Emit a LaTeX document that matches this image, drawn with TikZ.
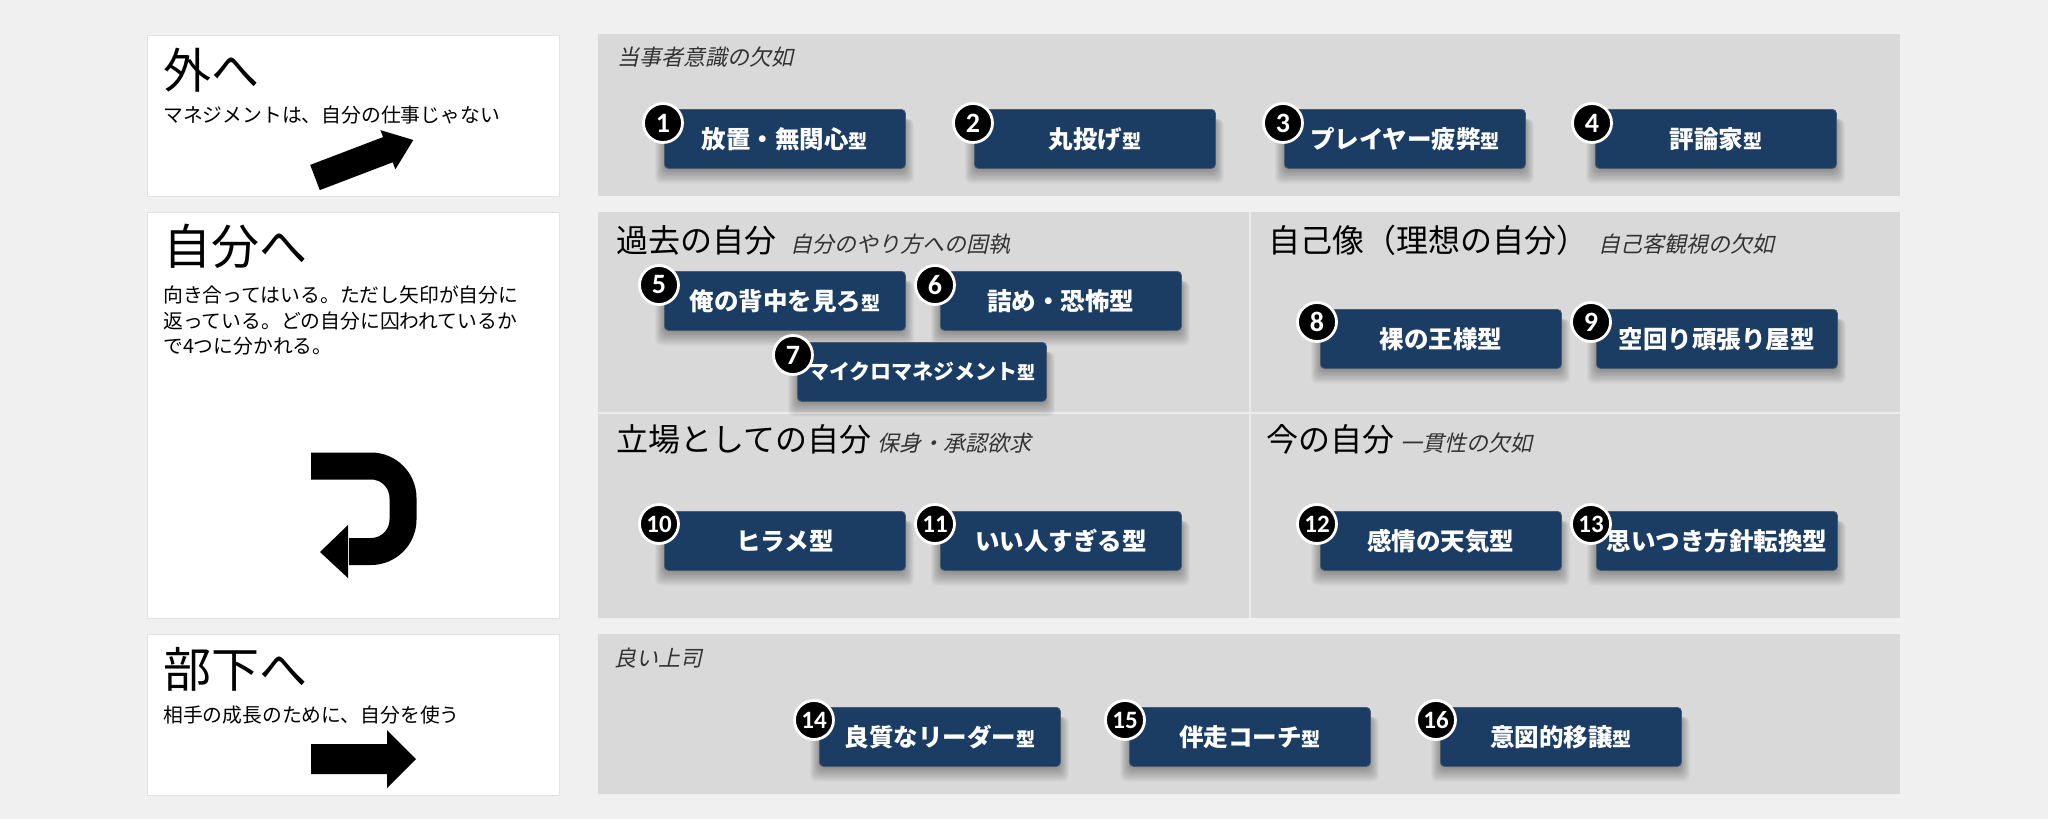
\documentclass[tikz,border=0pt]{standalone}
\usepackage{fontspec}
\setmainfont{Noto Sans CJK JP}
\newfontfamily\jpit[FakeSlant=0.22]{Noto Sans CJK JP}
\newfontfamily\numfont{Carlito}
\definecolor{bg}{HTML}{F0F0F0}
\definecolor{panel}{HTML}{D9D9D9}
\definecolor{navy}{HTML}{1B3C63}
\definecolor{navyedge}{HTML}{4A5B6E}
\definecolor{divider}{HTML}{EBEBEB}
\definecolor{boxedge}{HTML}{E2E2E2}
\definecolor{subgrey}{HTML}{333333}
\newcommand{\kata}{{\fontsize{19}{22}\selectfont 型}}
\begin{document}
\begin{tikzpicture}[x=1pt,y=-1pt,
  leftbox/.style={draw=boxedge, line width=1pt, fill=white},
  btn/.style={rectangle, rounded corners=4pt, fill=navy, draw=navyedge, line width=0.8pt,
    minimum width=241pt, minimum height=59pt, inner sep=0pt, text=white, anchor=north west,
    font=\bfseries\fontsize{24.5}{28}\selectfont},
  softshadow/.style={fill=black, opacity=0.03, rounded corners=6pt},
  badge/.style={circle, fill=black, draw=white, line width=2.8pt, minimum size=39pt, inner sep=0pt,
    text=white, font=\numfont\bfseries\fontsize{28}{30}\selectfont},
  badgetwo/.style={badge, font=\numfont\bfseries\fontsize{25}{27}\selectfont},
  bigtitle/.style={anchor=base west, inner sep=0pt, font=\fontsize{48}{56}\selectfont},
  bodytext/.style={anchor=base west, inner sep=0pt, font=\fontsize{19.8}{25.5}\selectfont},
  heading/.style={anchor=base west, inner sep=0pt, font=\fontsize{32}{36}\selectfont},
  subhead/.style={anchor=base west, inner sep=0pt, text=subgrey, font=\jpit\fontsize{22}{26}\selectfont},
  arrowfill/.style={fill=black}
]
\useasboundingbox (0,0) rectangle (2048,819);
\fill[bg] (0,0) rectangle (2048,819);

% ---------- left boxes ----------
\draw[leftbox] (147,35) rectangle (559,196);
\draw[leftbox] (147,212) rectangle (559,618);
\draw[leftbox] (147,634) rectangle (559,795);

\node[bigtitle] (t1) at (163,88) {外へ};
\node[bodytext] (s1) at (163,122.4) {マネジメントは、自分の仕事じゃない};
\fill[arrowfill] (310.2,164.9) -- (383.1,137.1) -- (380.4,130.1) -- (413.3,140) -- (395.4,169.3) -- (392.7,162.3) -- (319.8,190.1) -- cycle;

\node[bigtitle] (t2) at (163,264) {自分へ};
\node[bodytext] (s2a) at (163,302.4) {向き合ってはいる。ただし矢印が自分に};
\node[bodytext] (s2b) at (163,328) {返っている。どの自分に囚われているか};
\node[bodytext] (s2c) at (163,353.5) {で4つに分かれる。};
\draw[line width=27pt, rounded corners=32pt] (311,466) -- (403,466) -- (403,551.5) -- (349,551.5);
\fill[arrowfill] (348,525) -- (320,552) -- (348,578) -- cycle;

\node[bigtitle] (t3) at (163,687) {部下へ};
\node[bodytext] (s3) at (163,722.4) {相手の成長のために、自分を使う};
\fill[arrowfill] (311,744) -- (387,744) -- (387,730) -- (416,759) -- (387,788) -- (387,774) -- (311,774) -- cycle;

% ---------- right panels ----------
\fill[panel] (598,34) rectangle (1900,196);
\fill[panel] (598,212) rectangle (1900,618);
\draw[divider, line width=1.5pt] (1250,212) -- (1250,618);
\draw[divider, line width=1.5pt] (598,413) -- (1900,413);
\fill[panel] (598,634) rectangle (1900,794);

\node[subhead] (h1) at (617,65) {当事者意識の欠如};
\node[heading] (h2) at (616,252) {過去の自分\hspace{14pt}{\jpit\fontsize{22}{26}\selectfont\color{subgrey}自分のやり方への固執}};
\node[heading] (h3) at (1268,252) {自己像（理想の自分）\hspace{10pt}{\jpit\fontsize{22}{26}\selectfont\color{subgrey}自己客観視の欠如}};
\node[heading] (h4) at (616,451) {立場としての自分\hspace{6pt}{\jpit\fontsize{22}{26}\selectfont\color{subgrey}保身・承認欲求}};
\node[heading] (h5) at (1266,451) {今の自分\hspace{6pt}{\jpit\fontsize{22}{26}\selectfont\color{subgrey}一貫性の欠如}};
\node[subhead] (h6) at (614,666) {良い上司};

% ---------- soft shadows under the buttons ----------
\foreach \bx/\by/\bw in {664/109/241, 974/109/241, 1284/109/241, 1595/109/241,
  664/271/241, 940/271/241, 797/342/249, 1320/309/241, 1596/309/241,
  664/511/241, 940/511/241, 1320/511/241, 1596/511/241,
  819/707/241, 1129/707/241, 1440/707/241} {
  \foreach \i in {1,...,12} {
    \fill[softshadow] (\bx-0.9*\i+2, \by+10) rectangle (\bx+\bw+0.9*\i-2, \by+59+1.3*\i);
  }
}

% ---------- buttons ----------
\node[btn] (b1) at (664,109) {放置・無関心\kata};
\node[btn] (b2) at (974,109) {丸投げ\kata};
\node[btn] (b3) at (1284,109) {プレイヤー疲弊\kata};
\node[btn] (b4) at (1595,109) {評論家\kata};
\node[btn] (b5) at (664,271) {俺の背中を見ろ\kata};
\node[btn] (b6) at (940,271) {詰め・恐怖型};
\node[btn, minimum width=249pt, font=\bfseries\fontsize{21}{24}\selectfont] (b7) at (797,342) {マイクロマネジメント{\fontsize{18}{20}\selectfont 型}};
\node[btn] (b8) at (1320,309) {裸の王様型};
\node[btn] (b9) at (1596,309) {空回り頑張り屋型};
\node[btn] (b10) at (664,511) {ヒラメ型};
\node[btn] (b11) at (940,511) {いい人すぎる型};
\node[btn] (b12) at (1320,511) {感情の天気型};
\node[btn] (b13) at (1596,511) {思いつき方針転換型};
\node[btn] (b14) at (819,707) {良質なリーダー\kata};
\node[btn] (b15) at (1129,707) {伴走コーチ\kata};
\node[btn] (b16) at (1440,707) {意図的移譲\kata};

% ---------- number badges ----------
\node[badge] (n1) at (663,123) {1};
\node[badge] (n2) at (973,123) {2};
\node[badge] (n3) at (1283,123) {3};
\node[badge] (n4) at (1592,123) {4};
\node[badge] (n5) at (659,285) {5};
\node[badge] (n6) at (935,285) {6};
\node[badge] (n7) at (793,355) {7};
\node[badge] (n8) at (1317,322) {8};
\node[badge] (n9) at (1591,322) {9};
\node[badgetwo] (n10) at (659,524) {10};
\node[badgetwo] (n11) at (935,524) {11};
\node[badgetwo] (n12) at (1317,524) {12};
\node[badgetwo] (n13) at (1591,524) {13};
\node[badgetwo] (n14) at (814,720) {14};
\node[badgetwo] (n15) at (1125,720) {15};
\node[badgetwo] (n16) at (1436,720) {16};
\end{tikzpicture}
\end{document}
